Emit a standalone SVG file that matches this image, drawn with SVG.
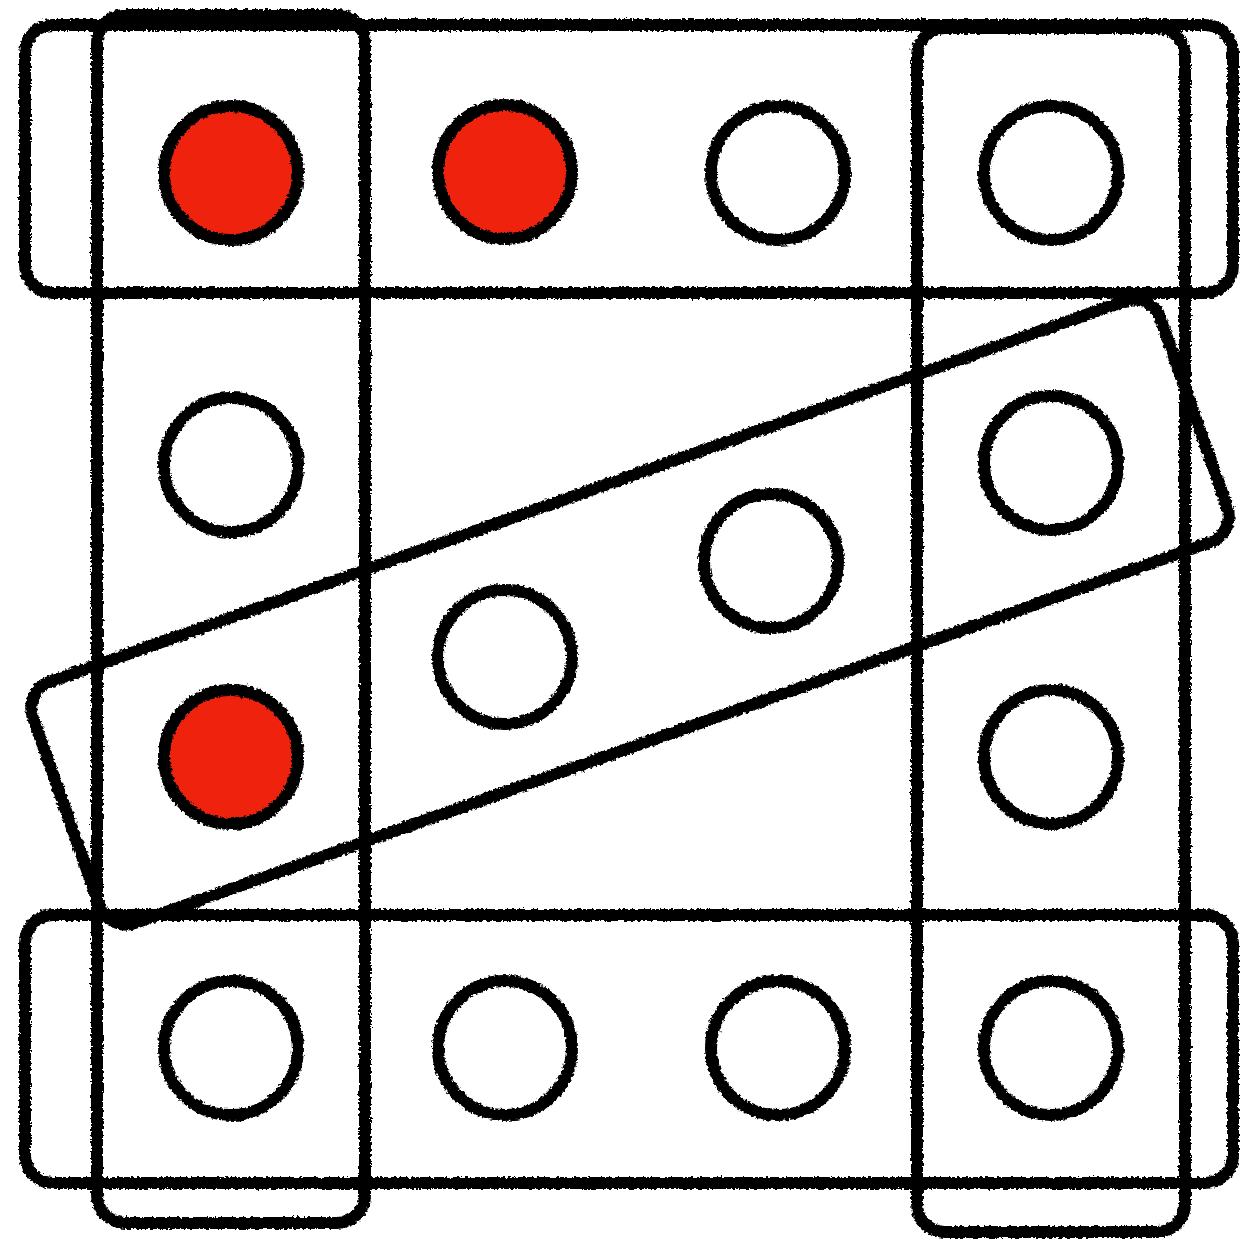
<svg xmlns="http://www.w3.org/2000/svg" width="1240" height="1241" viewBox="0 0 1240 1241">
  <defs>
    <filter id="rough" x="-5%" y="-5%" width="110%" height="110%">
      <feTurbulence type="fractalNoise" baseFrequency="0.35" numOctaves="2" seed="3" result="n"/>
      <feDisplacementMap in="SourceGraphic" in2="n" scale="5" xChannelSelector="R" yChannelSelector="G"/>
    </filter>
  </defs>
  <style>
    .grp { fill: none; stroke: #000; stroke-width: 12; stroke-linejoin: round; }
    .dot { fill: none; stroke: #000; stroke-width: 12; }
    .on { fill: #ee2410; }
  </style>
  <rect width="1240" height="1241" fill="#fff"/>
  <g id="connectors" filter="url(#rough)">
    <rect id="group-top" class="grp" x="25" y="25" width="1208" height="268" rx="28"/>
    <rect id="group-bottom" class="grp" x="25" y="915" width="1208" height="268" rx="28"/>
    <rect id="group-left" class="grp" x="97" y="15" width="268" height="1208" rx="28"/>
    <rect id="group-right" class="grp" x="917" y="28" width="268" height="1204" rx="28"/>
    <rect id="group-diag" class="grp" x="32" y="484" width="1196" height="256" rx="28" transform="rotate(-19.5 630 612)"/>
  </g>
  <g filter="url(#rough)">
    <g id="n1"><circle class="dot on" cx="231" cy="173" r="67"/></g>
    <g id="n2"><circle class="dot on" cx="505" cy="172" r="67"/></g>
    <g id="n3"><circle class="dot" cx="778" cy="173" r="67"/></g>
    <g id="n4"><circle class="dot" cx="1051" cy="173" r="67"/></g>
    <g id="n5"><circle class="dot" cx="231" cy="465" r="67"/></g>
    <g id="n6"><circle class="dot" cx="1051" cy="463" r="67"/></g>
    <g id="n7"><circle class="dot" cx="771" cy="561" r="67"/></g>
    <g id="n8"><circle class="dot" cx="505" cy="657" r="67"/></g>
    <g id="n9"><circle class="dot on" cx="231" cy="757" r="67"/></g>
    <g id="n10"><circle class="dot" cx="1051" cy="757" r="67"/></g>
    <g id="n11"><circle class="dot" cx="231" cy="1048" r="67"/></g>
    <g id="n12"><circle class="dot" cx="505" cy="1048" r="67"/></g>
    <g id="n13"><circle class="dot" cx="778" cy="1048" r="67"/></g>
    <g id="n14"><circle class="dot" cx="1051" cy="1048" r="67"/></g>
  </g>
</svg>
